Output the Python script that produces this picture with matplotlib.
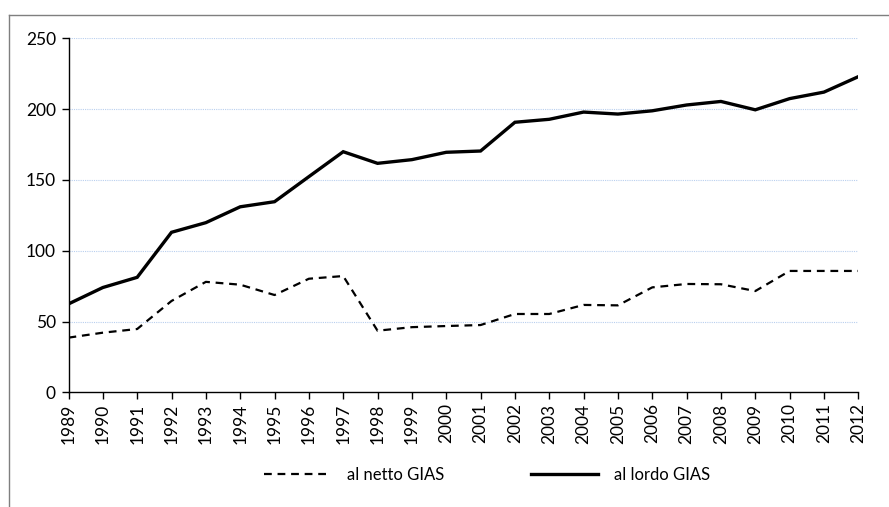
import matplotlib
matplotlib.use("Agg")
import matplotlib.pyplot as plt
from matplotlib.lines import Line2D

plt.rcParams["font.family"] = ["Lato", "DejaVu Sans"]

years = list(range(1989, 2013))
netto = [38.6, 42.1, 44.7, 64.5, 78.0, 76.0, 68.7, 80.2, 82.1, 43.5, 46.0, 46.8,
         47.5, 55.3, 55.3, 61.7, 61.4, 74.1, 76.5, 76.3, 71.5, 85.7, 85.7, 85.7]
lordo = [62.4, 74.0, 81.2, 113.0, 119.8, 131.0, 134.6, 152.3, 169.9, 161.7, 164.3, 169.5,
         170.4, 190.7, 192.8, 197.9, 196.5, 198.8, 202.9, 205.4, 199.5, 207.4, 212.0, 222.9]
yticks = [0, 50, 100, 150, 200, 250]

W, H = 889, 507
fig = plt.figure(figsize=(W / 100, H / 100), dpi=100)
ax = fig.add_axes([68.5 / W, 1 - 392.3 / H, (858.3 - 68.5) / W, (392.3 - 38.3) / H])

ax.plot(years, netto, color="black", lw=1.6, linestyle=(0, (3.5, 2.6)), label="al netto GIAS")
ax.plot(years, lordo, color="black", lw=2.4, label="al lordo GIAS", solid_joinstyle="miter")

ax.set_xlim(years[0], years[-1])
ax.set_ylim(0, 250)
ax.set_yticks(yticks)
ax.set_xticks(years)
ax.set_xticklabels([str(y) for y in years], rotation=90)
for v in yticks[1:]:
    ax.axhline(v, color="#b9cfee", lw=0.8, linestyle=(0, (1, 1)), zorder=0)

for s in ["top", "right"]:
    ax.spines[s].set_visible(False)
for s in ["left", "bottom"]:
    ax.spines[s].set_linewidth(1.0)
    ax.spines[s].set_color("black")
ax.tick_params(axis="both", direction="out", length=5, width=1, labelsize=12.5, colors="black")
ax.tick_params(axis="x", pad=3)
ax.tick_params(axis="y", pad=4)
ax.margins(x=0)

fig.legend(loc="center", bbox_to_anchor=(487 / W, 1 - 475 / H), ncol=2, frameon=False,
           fontsize=12, handlelength=4.0, handletextpad=1.0, columnspacing=5.2)

# chart area border (only top and left visible in the crop)
fig.add_artist(Line2D([9 / W, 9 / W], [0, 1 - 15 / H], color="#7f7f7f", lw=1.0))
fig.add_artist(Line2D([9 / W, 1], [1 - 15 / H, 1 - 15 / H], color="#7f7f7f", lw=1.0))

fig.savefig("out.png", dpi=100)
